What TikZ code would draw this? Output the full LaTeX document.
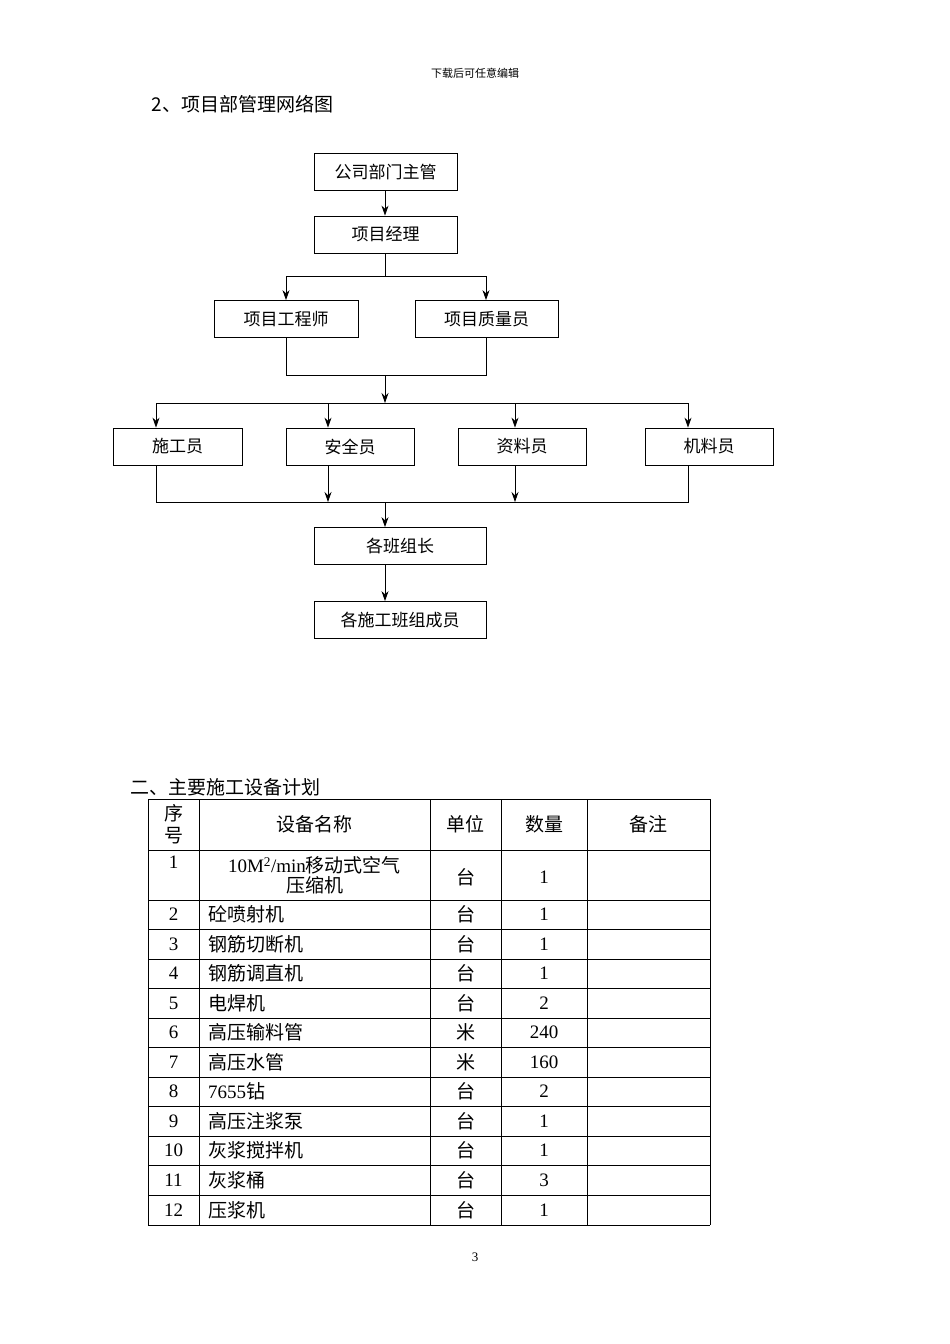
\documentclass[tikz,border=0pt]{standalone}
\usepackage{fontspec}
\setmainfont{Liberation Serif}
\newfontfamily\cjk{Noto Sans CJK SC}
\usetikzlibrary{arrows.meta}
\begin{document}
\begin{tikzpicture}[x=1pt,y=-1pt,
  bx/.style={draw,thick,minimum height=37pt,inner sep=0pt,font=\cjk\fontsize{17}{17}\selectfont},
  ar/.style={-{Stealth[length=10pt,width=7pt]},thick},
  ln/.style={thick},
  tt/.style={font=\cjk\fontsize{19}{20}\selectfont,inner sep=0pt}]
\useasboundingbox[fill=white] (0,0) rectangle (950,1344);
\node[font=\cjk\fontsize{11}{11}\selectfont] (hd) at (475,73) {下载后可任意编辑};
\node[anchor=west,font=\cjk\fontsize{19}{19}\selectfont] (t1) at (148,104) {2、项目部管理网络图};
\node[bx,minimum width=143pt] (a) at (385.5,172) {公司部门主管};
\node[bx,minimum width=143pt] (b) at (385.5,234.5) {项目经理};
\node[bx,minimum width=144pt] (c1) at (286,319) {项目工程师};
\node[bx,minimum width=143pt] (c2) at (486.5,319) {项目质量员};
\node[bx,minimum width=129pt] (d1) at (177.5,446.5) {施工员};
\node[bx,minimum width=128pt] (d2) at (350,446.5) {安全员};
\node[bx,minimum width=128pt] (d3) at (522,446.5) {资料员};
\node[bx,minimum width=128pt] (d4) at (709,446.5) {机料员};
\node[bx,minimum width=172pt] (e) at (400,546) {各班组长};
\node[bx,minimum width=172pt] (f) at (400,620) {各施工班组成员};
\coordinate (j1) at (385,276);
\coordinate (j2) at (385,375);
\coordinate (j3) at (385,403);
\coordinate (j4) at (385,502);
\draw[ar] (a.south -| 385,0) -- (b.north -| 385,0);
\draw[ln] (b.south -| 385,0) -- (j1);
\draw[ln] (286,276) -- (486,276);
\draw[ar] (286,276) -- (c1.north -| 286,0);
\draw[ar] (486,276) -- (c2.north -| 486,0);
\draw[ln] (c1.south -| 286,0) -- (286,375) -- (486,375) -- (c2.south -| 486,0);
\draw[ar] (j2) -- (j3);
\draw[ln] (156,403) -- (688,403);
\draw[ar] (156,403) -- (d1.north -| 156,0);
\draw[ar] (328,403) -- (d2.north -| 328,0);
\draw[ar] (515,403) -- (d3.north -| 515,0);
\draw[ar] (688,403) -- (d4.north -| 688,0);
\draw[ln] (d1.south -| 156,0) -- (156,502) -- (688,502) -- (d4.south -| 688,0);
\draw[ar] (d2.south -| 328,0) -- (328,502);
\draw[ar] (d3.south -| 515,0) -- (515,502);
\draw[ar] (j4) -- (e.north -| 385,0);
\draw[ar] (e.south -| 385,0) -- (f.north -| 385,0);
\node[anchor=west,font=\cjk\fontsize{19}{19}\selectfont] (t2) at (127,787) {二、主要施工设备计划};
\foreach \x in {148,199,430,501,587,710} \draw (\x,799) -- (\x,1225);
\foreach \y in {799,850,900,929,959,988,1018,1047,1077,1106,1136,1165,1195,1225} \draw (148,\y) -- (710,\y);
\node[tt,align=center] (h1) at (173.5,824.5) {序\\[2pt]号};
\node[tt] (h2) at (314.5,824.5) {设备名称};
\node[tt] (h3) at (465.5,824.5) {单位};
\node[tt] (h4) at (544,824.5) {数量};
\node[tt] (h5) at (648.5,824.5) {备注};
\node[tt] (n1) at (173.5,862) {\rmfamily 1};
\node[tt,align=center] (m1) at (314.5,875) {\rmfamily 10M\textsuperscript{2}/min\cjk 移动式空气\\压缩机};
\node[tt] (u1) at (465.5,877) {台};
\node[tt] (q1) at (544,877) {\rmfamily 1};
\foreach \i/\yy/\nm/\u/\q in {2/914.5/砼喷射机/台/1,3/944/钢筋切断机/台/1,4/973.5/钢筋调直机/台/1,5/1003/电焊机/台/2,6/1032.5/高压输料管/米/240,7/1062/高压水管/米/160,8/1091.5/{\rmfamily 7655}钻/台/2,9/1121/高压注浆泵/台/1,10/1150.5/灰浆搅拌机/台/1,11/1180/灰浆桶/台/3,12/1210/压浆机/台/1}{
  \node[tt] at (173.5,\yy) {\rmfamily\i};
  \node[tt,anchor=west] at (208,\yy) {\nm};
  \node[tt] at (465.5,\yy) {\u};
  \node[tt] at (544,\yy) {\rmfamily\q};
}
\node[font=\fontsize{13}{13}\selectfont] (pg) at (475,1257) {3};
\end{tikzpicture}
\end{document}
